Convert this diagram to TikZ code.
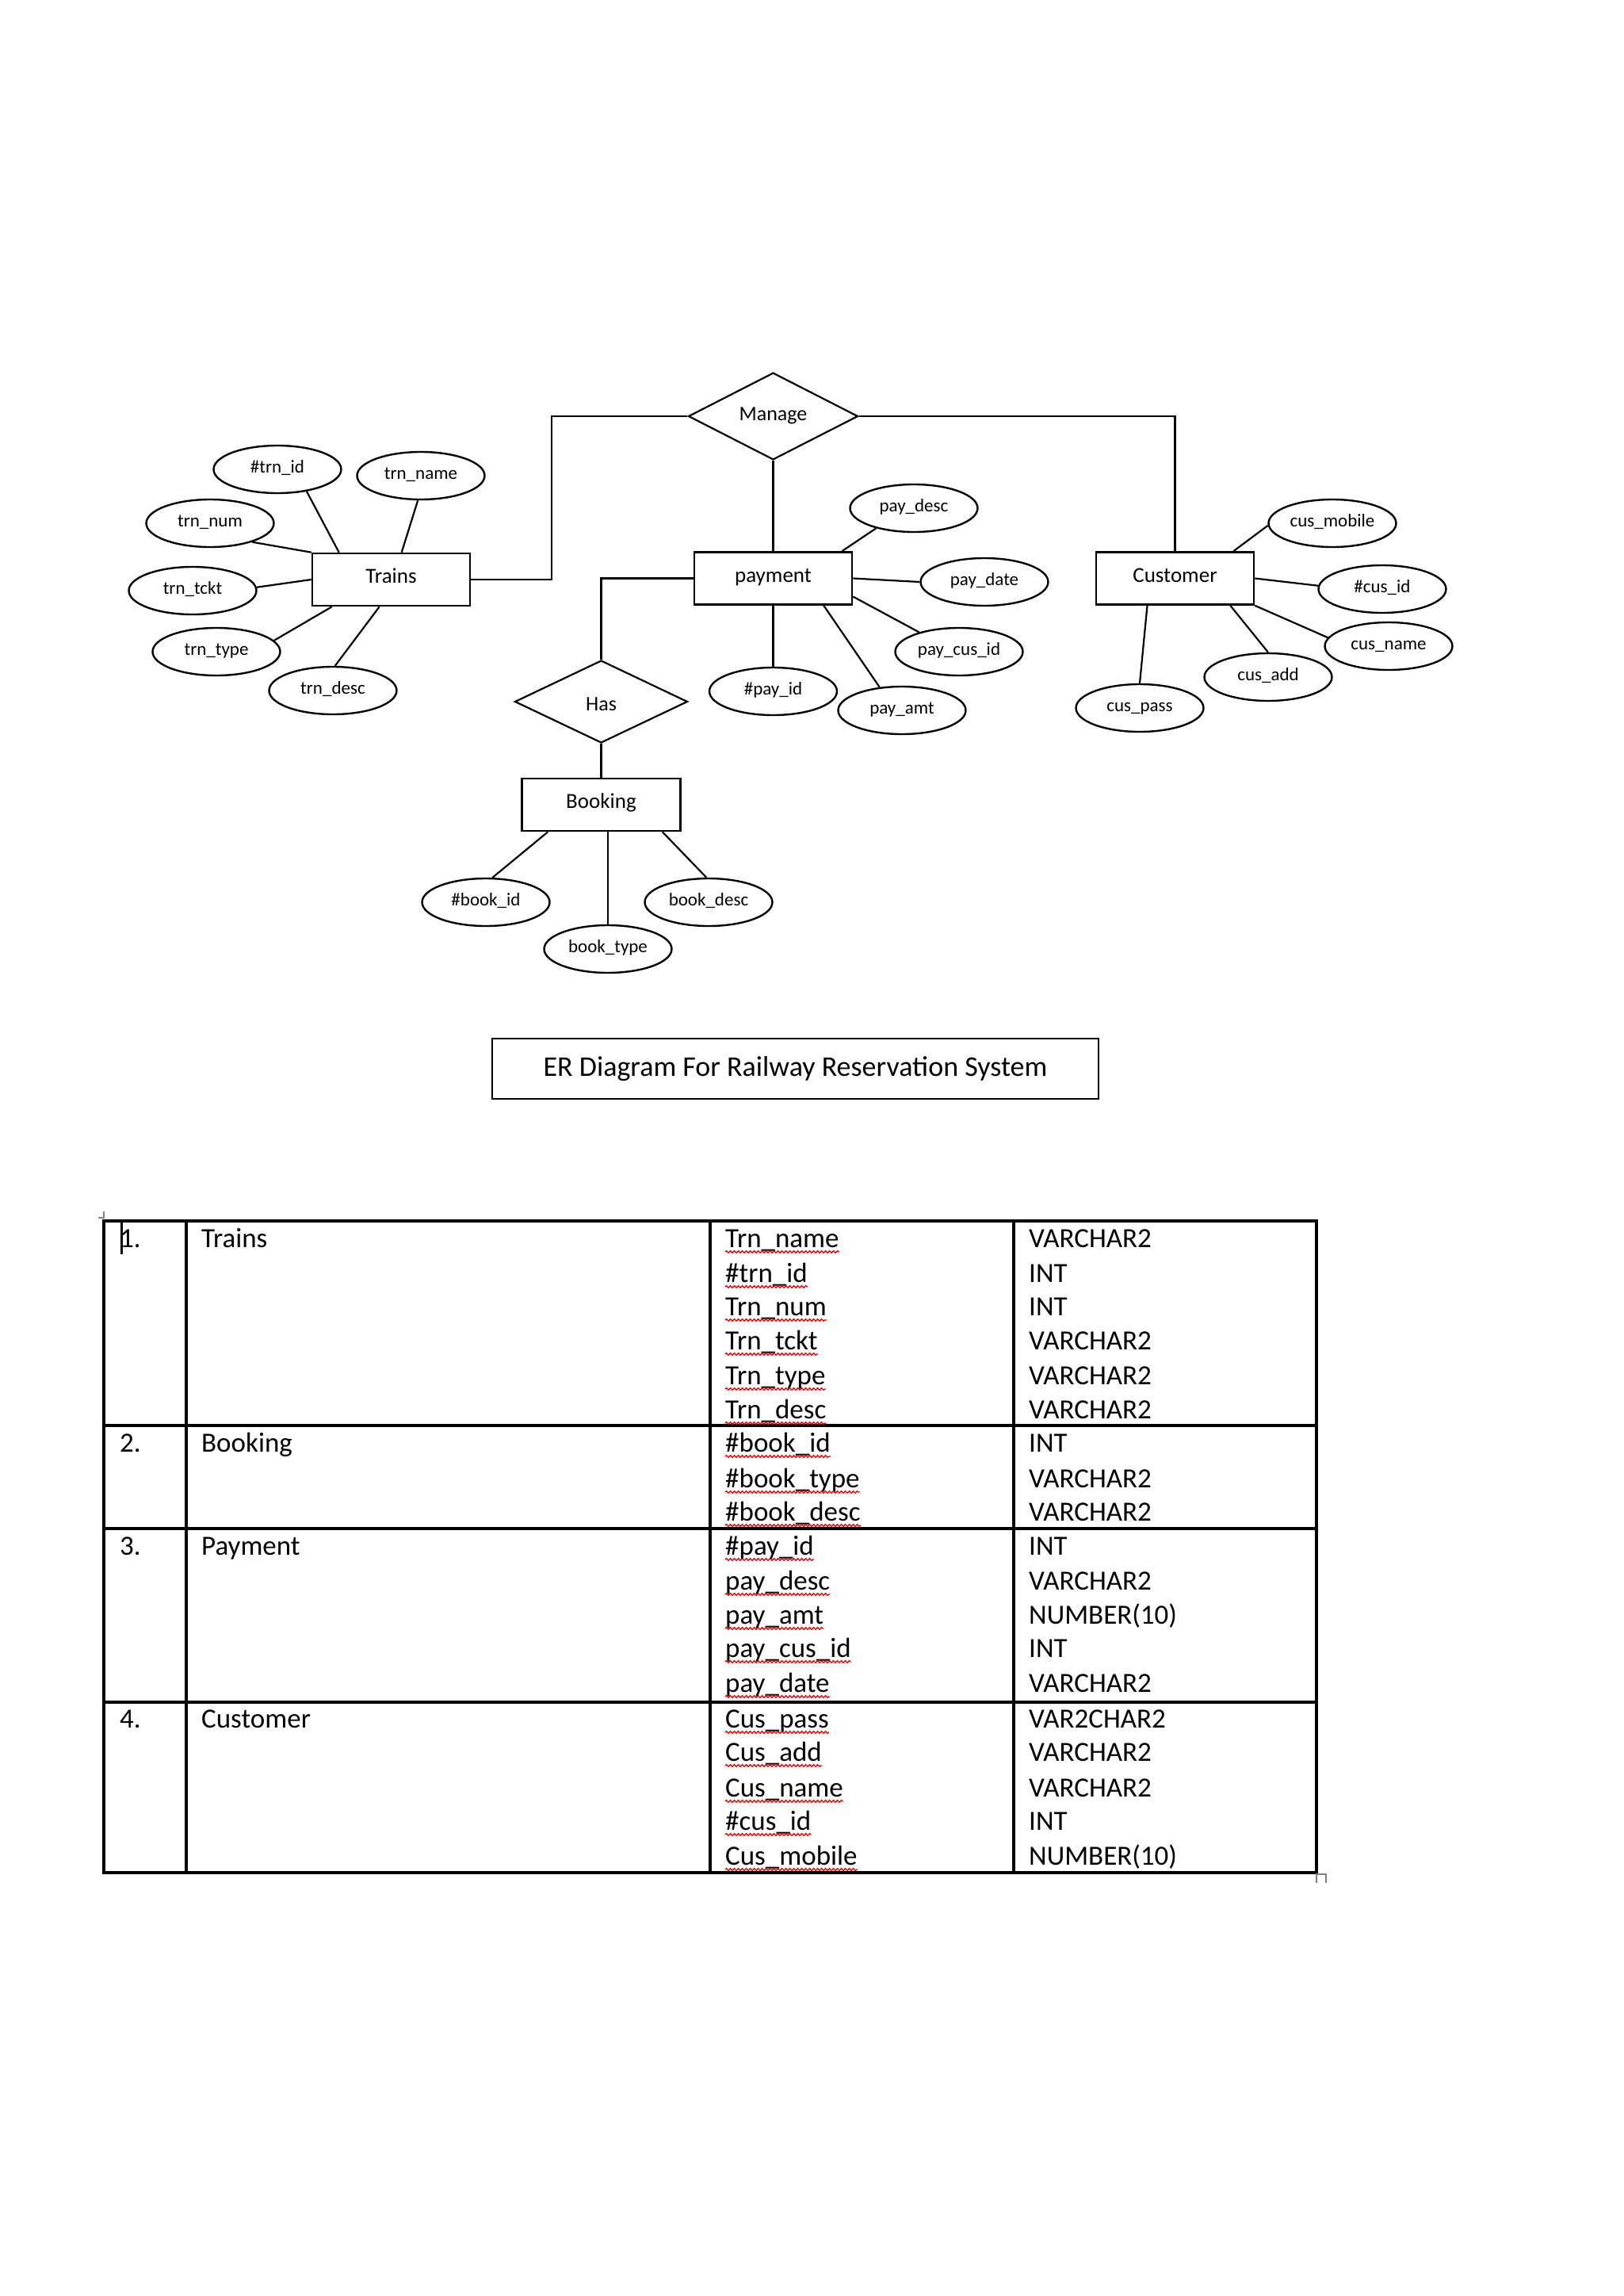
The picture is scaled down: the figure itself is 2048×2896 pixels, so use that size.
\documentclass[tikz,border=0pt]{standalone}
\usepackage{fontspec}
\setmainfont{Carlito}
\usetikzlibrary{shapes.geometric,calc,decorations.pathmorphing}
\begin{document}
\begin{tikzpicture}[x=1pt,y=-1pt,
  ent/.style={draw, line width=2.6pt, rectangle, minimum width=199pt, minimum height=66pt, inner sep=0pt, text height=18pt, text depth=9pt, font=\fontsize{27pt}{32pt}\selectfont},
  rel/.style={draw, line width=2.2pt, diamond, minimum width=214pt, minimum height=106pt, inner sep=0pt, text height=17pt, text depth=7pt, font=\fontsize{26pt}{31pt}\selectfont},
  att/.style={draw, line width=2.4pt, ellipse, minimum width=161pt, minimum height=60pt, inner sep=0pt, text height=16pt, text depth=8pt, font=\fontsize{23pt}{28pt}\selectfont},
  conn/.style={line width=2.2pt},
  tline/.style={line width=3.2pt},
  cell/.style={anchor=base west, inner sep=0pt, font=\fontsize{35pt}{42pt}\selectfont},
  squig/.style={draw=red, line width=1.3pt, decorate, decoration={snake, amplitude=1.4pt, segment length=5pt}},
  wordmark/.style={draw=gray, line width=1.2pt},
]
\fill[white] (0,0) rectangle (2048,2896);
\useasboundingbox (0,0) rectangle (2048,2896);

% entities and relationships
\node[ent] (trains) at (493.5,731) {Trains};
\node[ent] (payment) at (975.5,729.5) {payment};
\node[ent] (customer) at (1482.5,729.5) {Customer};
\node[ent, minimum width=200pt] (booking) at (758.5,1015) {Booking};
\node[rel] (manage) at (975.5,525) {Manage};
\node[rel, minimum width=218pt, minimum height=104pt, text height=28pt, text depth=5pt] (has) at (758.5,885) {Has};

% attributes
\node[att] (trnid) at (350,592) {\#trn\_id};
\node[att] (trnname) at (531,600) {trn\_name};
\node[att] (trnnum) at (265,660) {trn\_num};
\node[att] (trntckt) at (243,745) {trn\_tckt};
\node[att] (trntype) at (273,822) {trn\_type};
\node[att] (trndesc) at (420,871) {trn\_desc};
\node[att] (paydesc) at (1153,641) {pay\_desc};
\node[att] (paydate) at (1242,734) {pay\_date};
\node[att] (paycusid) at (1210,822) {pay\_cus\_id};
\node[att] (payamt) at (1138,896) {pay\_amt};
\node[att] (payid) at (975.5,872) {\#pay\_id};
\node[att] (bookid) at (613,1138) {\#book\_id};
\node[att] (booktype) at (767,1197) {book\_type};
\node[att] (bookdesc) at (894,1138) {book\_desc};
\node[att] (cusmobile) at (1681,660) {cus\_mobile};
\node[att] (cusid) at (1744,743) {\#cus\_id};
\node[att] (cusname) at (1752,815) {cus\_name};
\node[att] (cusadd) at (1600,854) {cus\_add};
\node[att] (cuspass) at (1438,893) {cus\_pass};

% attribute connectors
\draw[conn] (trnid.323) -- ($(trains.north west)+(35,0)$);
\draw[conn] (trnname.263) -- ($(trains.north west)+(114,0)$);
\draw[conn] (trnnum.336) -- (trains.north west);
\draw[conn] (trntckt.3) -- (trains.west);
\draw[conn] (trntype.11) -- ($(trains.south west)+(26,0)$);
\draw[conn] (trndesc.85) -- ($(trains.south west)+(86,0)$);
\draw[conn] (paydesc.208) -- ($(payment.north east)+(-14,0)$);
\draw[conn] (paydate.west) -- (payment.east);
\draw[conn] (paycusid.154) -- ($(payment.east)+(0,23)$);
\draw[conn] (payamt.134) -- ($(payment.south east)+(-37,0)$);
\draw[conn] (payment.south) -- (payid.north);
\draw[conn] (bookid.75) -- ($(booking.south west)+(34,0)$);
\draw[conn] (booktype.north) -- ($(booking.south)+(8.5,0)$);
\draw[conn] (bookdesc.95) -- ($(booking.south east)+(-24,0)$);
\draw[conn] (cusmobile.182) -- ($(customer.north east)+(-27,0)$);
\draw[conn] (cusid.177) -- (customer.east);
\draw[conn] (cusname.172) -- (customer.south east);
\draw[conn] (cusadd.north) -- ($(customer.south east)+(-31,0)$);
\draw[conn] (cuspass.north) -- ($(customer.south)+(-35,0)$);

% relationship connectors
\coordinate (bend) at (696,525);
\draw[conn] (trains.east) -| (bend) -- (manage.west);
\draw[conn] (manage.east) -| (customer.north);
\draw[conn] (manage.south) -- (payment.north);
\draw[conn] (payment.west) -| (has.north);
\draw[conn] (has.south) -- (booking.north);

% title
\node[draw, line width=2.6pt, minimum width=765pt, minimum height=76pt, inner sep=0pt, font=\fontsize{36pt}{42pt}\selectfont] (title) at (1003.5,1348) {ER Diagram For Railway Reservation System};

% table
\draw[tline] (131,1540) rectangle (1661,2362);
\foreach \x in {235,896,1279} \draw[tline] (\x,1540) -- (\x,2362);
\foreach \y in {1798,1928,2147} \draw[tline] (131,\y) -- (1661,\y);
\draw[wordmark] (131,1528) -- (131,1536) -- (124,1536);
\draw[wordmark] (1661,2375) -- (1661,2364) -- (1673,2364) -- (1673,2375);

\node[cell] (n1) at (151,1573) {1.};
\node[cell] (e1) at (254,1573) {Trains};
\node[cell] (n2) at (151,1831) {2.};
\node[cell] (e2) at (254,1831) {Booking};
\node[cell] (n3) at (151,1961) {3.};
\node[cell] (e3) at (254,1961) {Payment};
\node[cell] (n4) at (151,2179) {4.};
\node[cell] (e4) at (254,2179) {Customer};
\draw[line width=3pt] (153,1542) -- (153,1582);

\foreach \yy/\fname/\ftype [count=\i] in {
  1562/{Trn\_name}/{VARCHAR2},
  1606/{\#trn\_id}/{INT},
  1648/{Trn\_num}/{INT},
  1691/{Trn\_tckt}/{VARCHAR2},
  1735/{Trn\_type}/{VARCHAR2},
  1778/{Trn\_desc}/{VARCHAR2},
  1820/{\#book\_id}/{INT},
  1865/{\#book\_type}/{VARCHAR2},
  1907/{\#book\_desc}/{VARCHAR2},
  1950/{\#pay\_id}/{INT},
  1994/{pay\_desc}/{VARCHAR2},
  2037/{pay\_amt}/{NUMBER(10)},
  2079/{pay\_cus\_id}/{INT},
  2123/{pay\_date}/{VARCHAR2},
  2168/{Cus\_pass}/{VAR2CHAR2},
  2210/{Cus\_add}/{VARCHAR2},
  2255/{Cus\_name}/{VARCHAR2},
  2297/{\#cus\_id}/{INT},
  2341/{Cus\_mobile}/{NUMBER(10)}} {
  \node[cell] (f\i) at (915,{\yy+11}) {\fname};
  \node[cell] (t\i) at (1298,{\yy+11}) {\ftype};
  \draw[squig] ($(f\i.base west)+(0,6)$) -- ($(f\i.base east)+(0,6)$);
}
\end{tikzpicture}
\end{document}
